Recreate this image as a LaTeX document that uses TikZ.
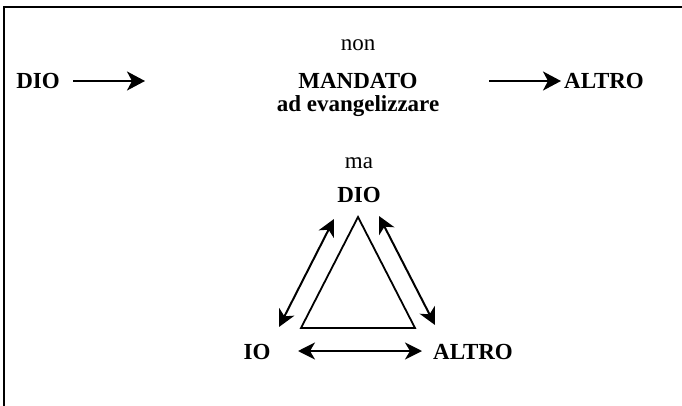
\documentclass[tikz,border=0pt]{standalone}
\usepackage{fontspec}
\setmainfont{Liberation Serif}
\usetikzlibrary{arrows.meta}

\begin{document}
\begin{tikzpicture}[x=1pt,y=-1pt,
  word/.style={font=\fontsize{23}{27}\selectfont\bfseries, inner sep=0pt},
  plain/.style={font=\fontsize{23}{27}\selectfont, inner sep=0pt},
  link/.style={line width=2pt, -{Stealth[length=18pt,width=19pt,inset=5pt]}},
  both/.style={line width=2pt, {Stealth[length=17pt,width=17pt,inset=5pt]}-{Stealth[length=17pt,width=17pt,inset=5pt]}}]
\useasboundingbox (0,0) rectangle (682,406);

% frame (only top and left side)
\draw[line width=2pt] (3.5,406) -- (3.5,7.5) -- (682,7.5);

% First line: DIO -> MANDATO -> ALTRO
\node[plain] (non) at (358,45) {non};
\node[word] (dio) at (38,80.5) {DIO};
\node[word] (mandato) at (358,80.5) {MANDATO};
\node[word] (evang) at (358,106) {ad evangelizzare};
\node[word] (altro) at (604,80.5) {ALTRO};

\coordinate (a1s) at (73,81);
\coordinate (a1e) at (145,81);
\coordinate (a2s) at (489,81);
\coordinate (a2e) at (561,81);
\draw[link] (a1s) -- (a1e);
\draw[link] (a2s) -- (a2e);

% Second part: the triangle DIO - IO - ALTRO
\node[plain] (ma) at (359,163.5) {ma};
\node[word] (dio2) at (359,194.5) {DIO};
\node[word] (io) at (257,351.5) {IO};
\node[word] (altro2) at (473,351.5) {ALTRO};

\draw[line width=1.8pt, line join=miter] (358,217) -- (301,328) -- (415,328) -- cycle;

\coordinate (l1) at (279,327);
\coordinate (l2) at (334,219);
\coordinate (r1) at (379,216);
\coordinate (r2) at (435,325);
\coordinate (b1) at (298,351);
\coordinate (b2) at (422,351);
\draw[both] (l1) -- (l2);
\draw[both] (r1) -- (r2);
\draw[both] (b1) -- (b2);

\end{tikzpicture}
\end{document}
